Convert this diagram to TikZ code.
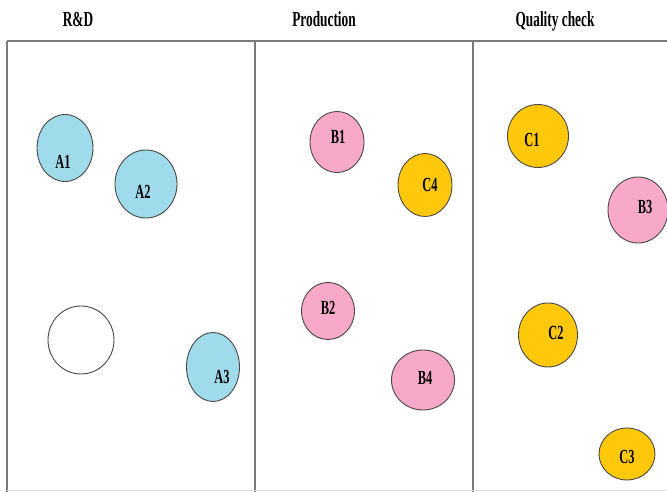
\documentclass[tikz,border=0pt]{standalone}
\usepackage{fontspec}
\setmainfont{Liberation Serif}[FakeStretch=0.62]
\usetikzlibrary{shapes.geometric}
\definecolor{sky}{HTML}{9FDBEB}
\definecolor{rose}{HTML}{F8A9C9}
\definecolor{gold}{HTML}{FFC80B}
\definecolor{rim}{HTML}{484848}
\definecolor{rule}{HTML}{7A7A7A}
\definecolor{faint}{HTML}{E2E2E2}
\newcommand{\fHead}{\fontsize{21.5}{24}\selectfont}
\newcommand{\fTag}{\fontsize{20}{23}\selectfont}

\begin{document}
\begin{tikzpicture}[x=1pt,y=-1pt,
  disc/.style={ellipse,draw=rim,line width=0.9pt,inner sep=0pt,label distance=0pt},
  tag/.style={font=\fTag\bfseries},
  rdd/.style={disc,fill=sky},
  prd/.style={disc,fill=rose},
  qcd/.style={disc,fill=gold},
  head/.style={font=\fHead\bfseries}]
  \useasboundingbox (0,0) rectangle (667,492);

  % column heads
  \node[head] (rd) at (78,19) {R\&D};
  \node[head] (prod) at (324,19) {Production};
  \node[head] (qc) at (555,21) {Quality check};

  % table lines
  \draw[rule,line width=1.6pt] (7,41) -- (667,41);
  \draw[rule,line width=1.2pt] (7,41) -- (7,492);
  \draw[rule,line width=1.2pt] (255,41) -- (255,492);
  \draw[rule,line width=1.2pt] (473,41) -- (473,492);
  \draw[faint,line width=1pt] (7,490.5) -- (667,490.5);

  % R&D
  \node[rdd,minimum width=56pt,minimum height=67pt,label={[tag,xshift=-2pt,yshift=-14pt]center:A1}] (a1) at (65,148) {};
  \node[rdd,minimum width=62pt,minimum height=68pt,label={[tag,xshift=-3pt,yshift=-8pt]center:A2}] (a2) at (146,184) {};
  \node[disc,fill=white,minimum width=66pt,minimum height=68pt] (a0) at (81,340) {};
  \node[rdd,minimum width=53pt,minimum height=69pt,label={[tag,xshift=9pt,yshift=-10pt]center:A3}] (a3) at (213,367) {};

  % Production
  \node[prd,minimum width=54pt,minimum height=61pt,label={[tag,xshift=1pt,yshift=5pt]center:B1}] (b1) at (337,142) {};
  \node[qcd,minimum width=54pt,minimum height=63pt,label={[tag,xshift=5pt]center:C4}] (c4) at (425,185) {};
  \node[prd,minimum width=53pt,minimum height=57pt,label={[tag,yshift=3pt]center:B2}] (b2) at (328,311) {};
  \node[prd,minimum width=63pt,minimum height=60pt,label={[tag,xshift=2pt,yshift=2pt]center:B4}] (b4) at (423,380) {};

  % Quality check
  \node[qcd,minimum width=61pt,minimum height=63pt,label={[tag,xshift=-6pt,yshift=-4pt]center:C1}] (c1) at (538,136) {};
  \node[prd,minimum width=60pt,minimum height=66pt,label={[tag,xshift=7pt,yshift=3pt]center:B3}] (b3) at (638,210) {};
  \node[qcd,minimum width=59pt,minimum height=64pt,label={[tag,xshift=8pt,yshift=2pt]center:C2}] (c2) at (548,335) {};
  \node[qcd,minimum width=56pt,minimum height=52pt,label={[tag,yshift=-3pt]center:C3}] (c3) at (627,454) {};
\end{tikzpicture}
\end{document}
